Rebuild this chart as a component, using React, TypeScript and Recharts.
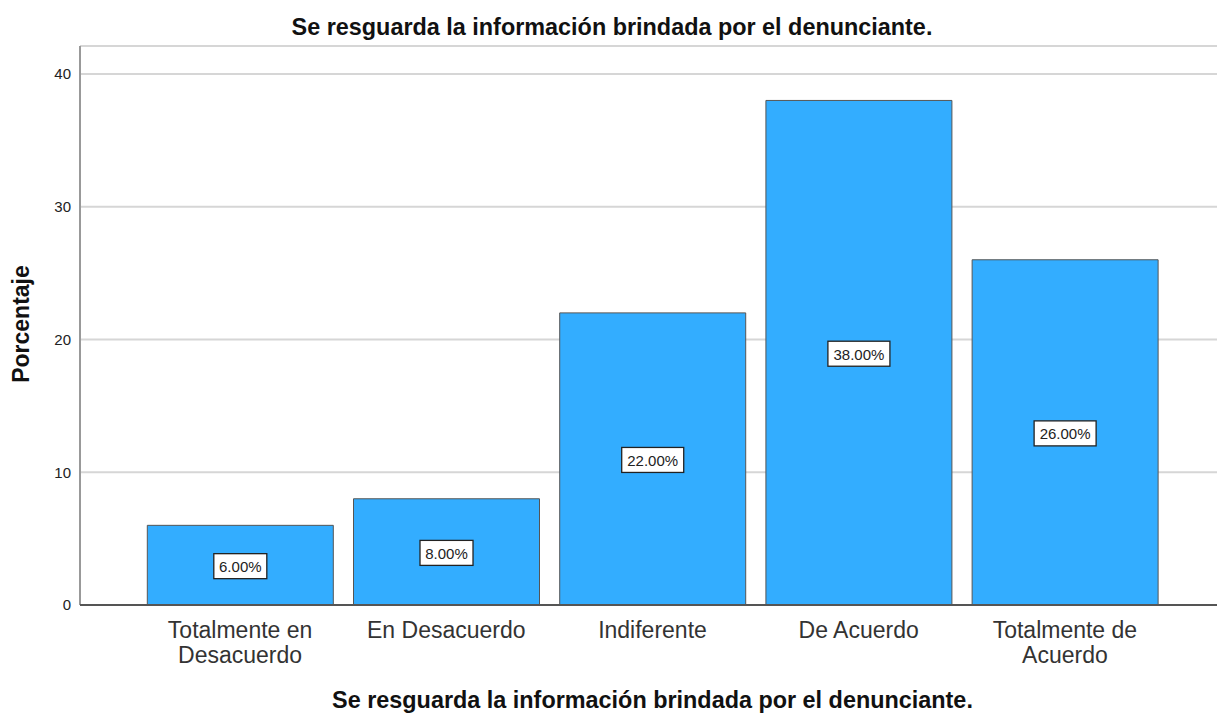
import { BarChart, Bar, XAxis, YAxis, CartesianGrid, LabelList } from 'recharts';

const categories = ['Totalmente en\nDesacuerdo', 'En Desacuerdo', 'Indiferente', 'De Acuerdo', 'Totalmente de\nAcuerdo'];
const percentages = [6, 8, 22, 38, 26];
const yTicks = [0, 10, 20, 30, 40];

const data = categories.map((name, i) => ({ name, value: percentages[i] }));

const title = 'Se resguarda la información brindada por el denunciante.';

const FONT = 'Arial, "Liberation Sans", sans-serif';

function CategoryTick(props: any) {
  const { x, y, payload } = props;
  const lines = String(payload.value).split('\n');
  return (
    <text x={x} y={y + 25} textAnchor="middle" fill="#333" fontSize={23} fontFamily={FONT}>
      {lines.map((line, i) => (
        <tspan key={i} x={x} dy={i === 0 ? 0 : 25}>{line}</tspan>
      ))}
    </text>
  );
}

function ValueBox(props: any) {
  const { x, y, width, height, value } = props;
  const label = `${Number(value).toFixed(2)}%`;
  const cx = x + width / 2;
  const cy = y + height / 2 + 1;
  const w = label.length * 9 + 8;
  const h = 25;
  return (
    <g>
      <rect x={cx - w / 2} y={cy - h / 2} width={w} height={h} fill="#fff" stroke="#222" strokeWidth={1.3} />
      <text x={cx} y={cy + 6} textAnchor="middle" fill="#222" fontSize={15} fontFamily={FONT}>{label}</text>
    </g>
  );
}

export default function App() {
  return (
    <div style={{ position: 'absolute', left: 0, top: 0, width: 1217, height: 713, background: '#fff', fontFamily: FONT }}>
      <div style={{ position: 'absolute', left: 0, width: 1224, top: 13, textAlign: 'center', fontWeight: 'bold', fontSize: 23.4, color: '#111', lineHeight: '28px' }}>
        {title}
      </div>
      <div style={{ position: 'absolute', left: 0, width: 1217, top: 686, textAlign: 'center', fontWeight: 'bold', fontSize: 23.4, color: '#111', lineHeight: '28px', paddingLeft: 88, boxSizing: 'border-box' }}>
        {title}
      </div>
      <div style={{ position: 'absolute', left: 21, top: 324, transform: 'translate(-50%, -50%) rotate(-90deg)', fontWeight: 'bold', fontSize: 23, color: '#111', whiteSpace: 'nowrap' }}>
        Porcentaje
      </div>
      <BarChart
        width={1217}
        height={713}
        data={data}
        margin={{ top: 46, right: 0, bottom: 0, left: 0 }}
        barCategoryGap="5%"
      >
        <CartesianGrid horizontal vertical={false} stroke="#d6d6d6" strokeWidth={2} />
        <YAxis
          width={80}
          domain={[0, 42.1]}
          ticks={yTicks}
          allowDataOverflow
          tickLine={false}
          tickSize={0}
          axisLine={{ stroke: '#999', strokeWidth: 2 }}
          tick={{ fill: '#222', fontSize: 15, fontFamily: FONT }}
          tickMargin={9}
        />
        <XAxis
          dataKey="name"
          height={108}
          interval={0}
          padding={{ left: 57, right: 49 }}
          tickLine={false}
          axisLine={{ stroke: '#555', strokeWidth: 2 }}
          tick={<CategoryTick />}
        />
        <Bar dataKey="value" fill="#33adff" stroke="#555" strokeWidth={1} isAnimationActive={false}>
          <LabelList dataKey="value" content={<ValueBox />} />
        </Bar>
      </BarChart>
    </div>
  );
}
